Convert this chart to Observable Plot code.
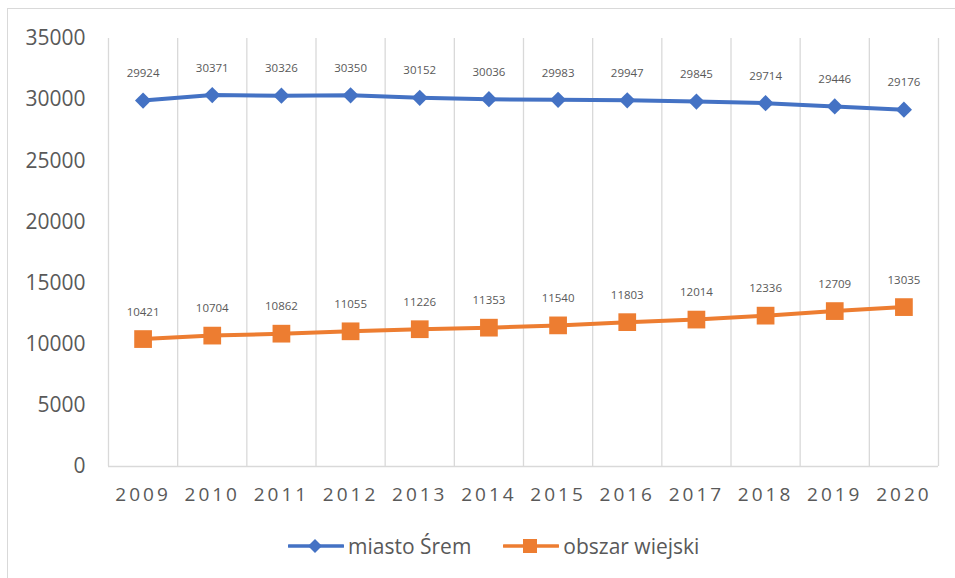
<!DOCTYPE html>
<html>
<head>
<meta charset="utf-8">
<script src="https://cdn.jsdelivr.net/npm/d3@7"></script>
<script src="https://cdn.jsdelivr.net/npm/@observablehq/plot@0.6"></script>
<style>
  html, body { margin: 0; padding: 0; background: #fff; overflow: hidden; }
  #wrap { position: relative; width: 955px; height: 578px; font-family: "Open Sans", sans-serif; }
  #frame { position: absolute; left: 7px; top: 8px; width: 980px; height: 600px; border: 1px solid #d9d9d9; box-sizing: border-box; }
  #chart { position: absolute; left: 0; top: 0; }
  .chart g[aria-label="x-axis tick label"] text { letter-spacing: 3px; }
  #legend { position: absolute; left: 288px; top: 530px; height: 32px; display: flex; align-items: center; font-size: 21px; color: #595959; }
  #legend .item { display: flex; align-items: center; }
  #legend svg { display: block; }
</style>
</head>
<body>
<div id="wrap">
  <div id="frame"></div>
  <div id="chart"></div>
  <div id="legend"></div>
</div>
<script>
const years = [2009, 2010, 2011, 2012, 2013, 2014, 2015, 2016, 2017, 2018, 2019, 2020];
const miastoSrem = [29924, 30371, 30326, 30350, 30152, 30036, 29983, 29947, 29845, 29714, 29446, 29176];
const obszarWiejski = [10421, 10704, 10862, 11055, 11226, 11353, 11540, 11803, 12014, 12336, 12709, 13035];
const yTicks = [0, 5000, 10000, 15000, 20000, 25000, 30000, 35000];
const seriesNames = ["miasto Śrem", "obszar wiejski"];
const seriesColors = ["#4472C4", "#ED7D31"];

const data = [
  ...years.map((yr, i) => ({year: yr, value: miastoSrem[i], series: seriesNames[0]})),
  ...years.map((yr, i) => ({year: yr, value: obszarWiejski[i], series: seriesNames[1]}))
];
const blue = data.filter(d => d.series === seriesNames[0]);
const orange = data.filter(d => d.series === seriesNames[1]);
const boundaries = [...years.map(y => y - 0.5), years[years.length - 1] + 0.5];

const plot = Plot.plot({
  className: "chart",
  width: 955,
  height: 520,
  marginLeft: 108,
  marginRight: 17,
  marginTop: 38,
  marginBottom: 54,
  style: {fontFamily: "Open Sans, sans-serif", color: "#595959", background: "transparent"},
  x: {type: "linear", domain: [years[0] - 0.5, years[years.length - 1] + 0.5]},
  y: {domain: [0, 35000]},
  marks: [
    Plot.ruleX(boundaries, {stroke: "#d9d9d9", strokeWidth: 1.3}),
    Plot.ruleY([0], {stroke: "#d9d9d9", strokeWidth: 1.3}),
    Plot.axisY({ticks: yTicks, tickSize: 0, tickPadding: 23, fontSize: 21, fill: "#595959", tickFormat: d => String(d), label: null}),
    Plot.axisX({ticks: years, tickSize: 0, tickPadding: 21, fontSize: 19, fill: "#595959", tickFormat: d => String(d), label: null}),
    Plot.line(blue, {x: "year", y: "value", stroke: seriesColors[0], strokeWidth: 4}),
    Plot.line(orange, {x: "year", y: "value", stroke: seriesColors[1], strokeWidth: 4}),
    Plot.dot(blue, {x: "year", y: "value", symbol: "diamond2", r: 7.3, fill: seriesColors[0], stroke: "none"}),
    Plot.dot(orange, {x: "year", y: "value", symbol: "square", r: 10, fill: seriesColors[1], stroke: "none"}),
    Plot.text(data, {x: "year", y: "value", text: d => String(d.value), dy: -27, fontSize: 11.5, fill: "#595959"})
  ]
});
document.getElementById("chart").appendChild(plot);

// Legend
const legend = d3.select("#legend");
const markers = ["diamond", "square"];
seriesNames.forEach((name, i) => {
  const item = legend.append("div").attr("class", "item").style("margin-right", i === 0 ? "32px" : "0");
  const svg = item.append("svg").attr("width", 56).attr("height", 20);
  svg.append("line").attr("x1", 1).attr("x2", 55).attr("y1", 10).attr("y2", 10)
    .attr("stroke", seriesColors[i]).attr("stroke-width", 3.5).attr("stroke-linecap", "round");
  if (markers[i] === "diamond") {
    svg.append("path").attr("d", "M27,3L34,10L27,17L20,10Z").attr("fill", seriesColors[i]);
  } else {
    svg.append("rect").attr("x", 20).attr("y", 3).attr("width", 14).attr("height", 14).attr("fill", seriesColors[i]);
  }
  item.append("span").text(name).style("margin-left", "4px");
});
</script>
</body>
</html>
